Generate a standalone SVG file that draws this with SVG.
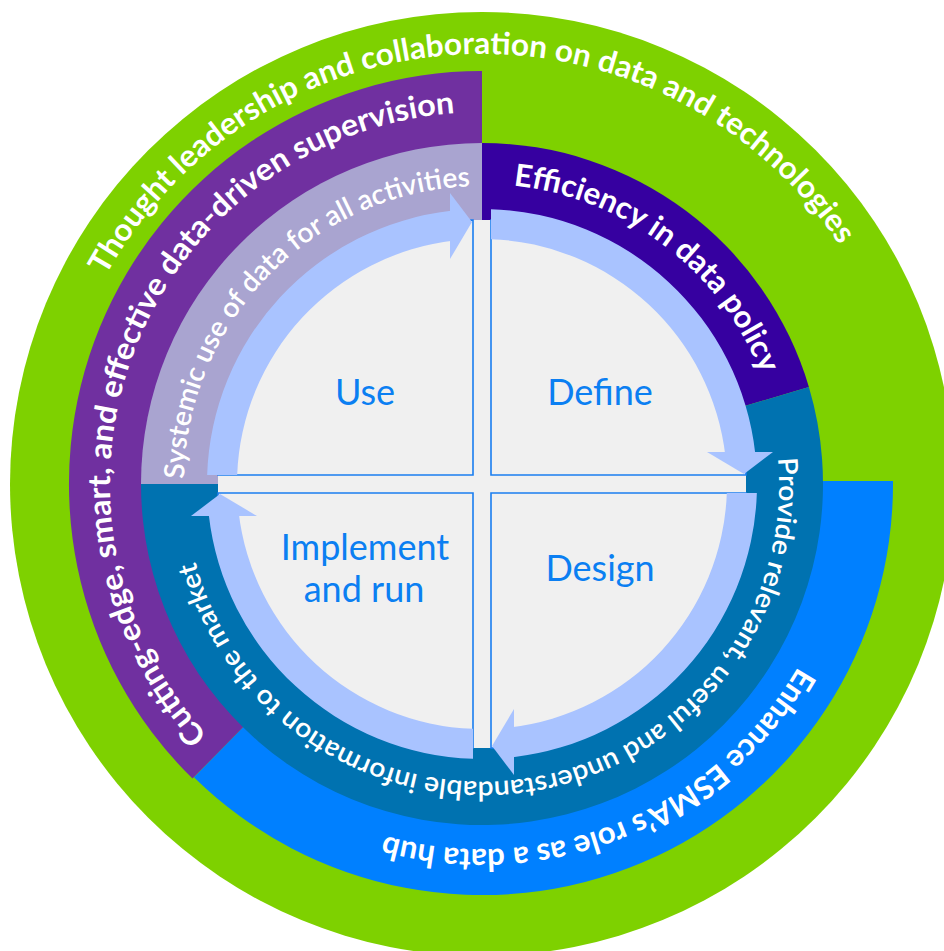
<svg xmlns="http://www.w3.org/2000/svg" xmlns:xlink="http://www.w3.org/1999/xlink" width="944" height="951" viewBox="0 0 944 951">
<style>
.ring{font-family:Lato,"Liberation Sans",sans-serif;font-weight:700;fill:#ffffff;}
.ringb{font-size:31px;}
.rings{font-size:27px;font-weight:600;}
.quad{fill:#F0F0F0;stroke:#1A7EF0;stroke-width:1.6;}
.ql{font-family:Lato,"Liberation Sans",sans-serif;font-size:36px;fill:#0B7FF2;text-anchor:middle;}
.arrow{fill:#A9C3FF;}
</style>
<defs>
<path id="p1" d="M105.9,275.5 A430,430 0 0 1 854.4,269"/>
<path id="p2" d="M207.7,735.3 A372,372 0 0 1 482,112"/>
<path id="p3" d="M184.0,478.8 A298,298 0 0 1 492.4,186.2"/>
<path id="p4" d="M513.4,185.6 A300,300 0 0 1 771.8,406.4"/>
<path id="p5" d="M777.9,458.1 A297,297 0 0 1 189.5,535.6"/>
<path id="p6" d="M798.1,666.5 A365,365 0 0 1 357.2,827"/>
<g id="arrowTR">
<path d="M491,209.15 A275,275 0 0 1 755.2,452.9 L725.4,456.3 A245,245 0 0 0 491,239.17 Z"/>
<path d="M707,452 L773,452 L744,474 Z"/>
</g>
</defs>

<g id="thought-leadership">
<circle cx="482" cy="484" r="472" fill="#7ED100"/>
<text class="ring ringb"><textPath href="#p1" textLength="880" lengthAdjust="spacingAndGlyphs">Thought leadership and collaboration on data and technologies</textPath></text>
</g>

<g id="data-hub">
<path d="M482,484 L482,481 L893,481 A411,411 0 0 1 193.9,777.2 Z" fill="#0080FF"/>
</g>

<g id="supervision">
<path d="M482,484 L192.5,778.6 A413,413 0 0 1 482,71 Z" fill="#7030A0"/>
</g>

<g id="systemic-use">
<path d="M482,484 L141,484 A341,341 0 0 1 482,143 Z" fill="#A9A4D0"/>
</g>

<g id="efficiency">
<path d="M482,484 L482,143 A341,341 0 0 1 808.9,387 Z" fill="#3600A0"/>
</g>

<g id="provide-info">
<path d="M482,484 L808.9,387 A341,341 0 1 1 141,484 Z" fill="#0072B0"/>
</g>

<g id="cross">
<rect x="218" y="475" width="528" height="18" fill="#F0F0F0"/>
<rect x="473" y="220" width="18" height="528" fill="#F0F0F0"/>
</g>

<g id="use">
<path class="quad" d="M473,475 L473,220 A255,255 0 0 0 218,475 Z"/>
<text class="ql" x="365" y="405">Use</text>
</g>
<g id="define">
<path class="quad" d="M491,475 L491,220 A255,255 0 0 1 746,475 Z"/>
<text class="ql" x="600" y="405">Define</text>
</g>
<g id="design">
<path class="quad" d="M491,493 L746,493 A255,255 0 0 1 491,748 Z"/>
<text class="ql" x="600" y="581">Design</text>
</g>
<g id="implement">
<path class="quad" d="M473,493 L473,748 A255,255 0 0 1 218,493 Z"/>
<text class="ql" x="365" y="560">Implement</text>
<text class="ql" x="364" y="602">and run</text>
</g>

<g id="connectors" class="arrow">
<use href="#arrowTR"/>
<use href="#arrowTR" transform="rotate(90 482 484)"/>
<use href="#arrowTR" transform="rotate(180 482 484)"/>
<use href="#arrowTR" transform="rotate(270 482 484)"/>
</g>

<g id="ring-labels">
<text class="ring ringb"><textPath href="#p2" textLength="833" lengthAdjust="spacingAndGlyphs">Cutting-edge, smart, and effective data-driven supervision</textPath></text>
<text class="ring rings" style="font-size:28px"><textPath href="#p3" textLength="451" lengthAdjust="spacingAndGlyphs">Systemic use of data for all activities</textPath></text>
<text class="ring ringb"><textPath href="#p4" textLength="327" lengthAdjust="spacingAndGlyphs">Efficiency in data policy</textPath></text>
<text class="ring rings"><textPath href="#p5" textLength="881" lengthAdjust="spacingAndGlyphs">Provide relevant, useful and understandable information to the market</textPath></text>
<text class="ring ringb"><textPath href="#p6" textLength="481" lengthAdjust="spacingAndGlyphs">Enhance ESMA’s role as a data hub</textPath></text>
</g>
</svg>
